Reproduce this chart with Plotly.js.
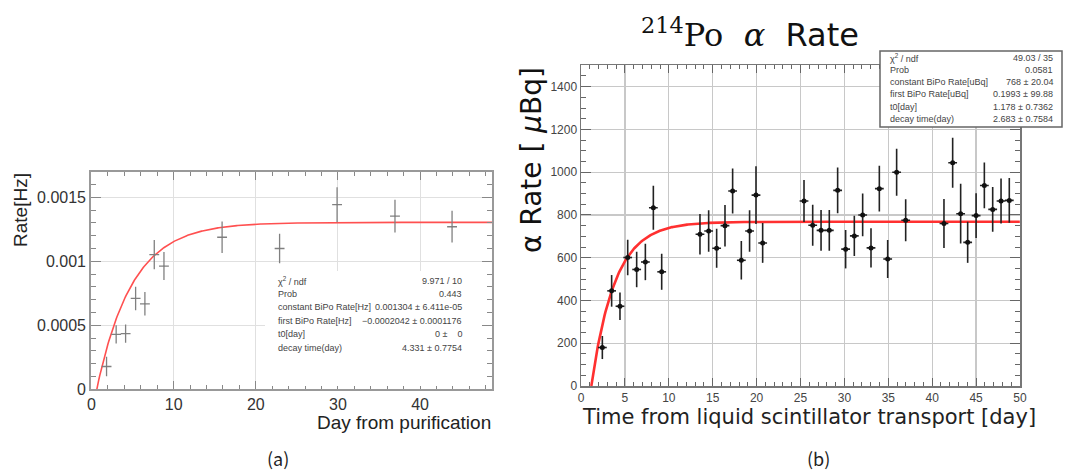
<!DOCTYPE html>
<html>
<head>
<meta charset="utf-8">
<script src="https://cdn.plot.ly/plotly-3.0.1.min.js"></script>
<style>html,body{margin:0;padding:0;background:#fff;}#chart{width:1067px;height:470px;}</style>
</head>
<body>
<div id="chart"></div>
<script>
// ---------- Panel (a) data ----------
const aDay      = [1.83, 3.0, 4.15, 5.37, 6.5, 7.64, 8.82, 15.9, 22.9, 29.9, 36.95, 43.9];
const aDayErr   = [0.6, 0.6, 0.6, 0.6, 0.6, 0.6, 0.6, 0.6, 0.6, 0.6, 0.6, 0.6];
const aRate     = [0.000178, 0.000429, 0.000435, 0.00071, 0.000668, 0.001052, 0.000963, 0.001188, 0.0011, 0.001442, 0.001353, 0.00127];
const aRateErr  = [0.000076, 0.000072, 0.000072, 0.000092, 0.000092, 0.000115, 0.00011, 0.000123, 0.000115, 0.000137, 0.000128, 0.000124];
const aFit = {constant: 0.001304, first: -0.0002042, t0: 0, tau: 4.331};
const aStatLabels = ["χ<sup>2</sup> / ndf", "Prob", "constant BiPo Rate[Hz]", "first BiPo Rate[Hz]", "t0[day]", "decay time(day)"];
const aStatValues = ["9.971 / 10", "0.443", "0.001304 ± 6.411e-05", "−0.0002042 ± 0.0001176", "0 ±    0", "4.331 ± 0.7754"];

// ---------- Panel (b) data ----------
const bDay     = [2.43, 3.49, 4.44, 5.32, 6.34, 7.33, 8.24, 9.19, 13.55, 14.54, 15.45, 16.4, 17.27, 18.26, 19.2, 19.93, 20.69,
                  25.4, 26.39, 27.34, 28.28, 29.23, 30.14, 31.13, 32.08, 33.03, 33.98, 34.93, 35.95, 36.98,
                  41.34, 42.33, 43.24, 44.04, 45.0, 45.94, 46.89, 47.84, 48.78];
const bRate    = [180, 445, 373, 601, 545, 580, 834, 534, 710, 725, 644, 750, 912, 588, 725, 893, 669,
                  865, 752, 728, 728, 915, 640, 702, 800, 646, 923, 594, 1000, 775,
                  760, 1044, 806, 672, 797, 938, 826, 865, 868];
const bRateErr = [54, 74, 64, 83, 83, 85, 103, 84, 95, 97, 91, 97, 105, 90, 97, 135, 93,
                  98, 96, 95, 95, 107, 90, 94, 100, 92, 107, 89, 110, 98,
                  115, 117, 140, 96, 105, 107, 105, 105, 105];
const bDayErr  = bDay.map(() => 0.5);
const bFit = {constant: 768, first: 0.1993, t0: 1.178, tau: 2.683};
const bStatLabels = ["χ<sup>2</sup> / ndf", "Prob", "constant BiPo Rate[uBq]", "first BiPo Rate[uBq]", "t0[day]", "decay time(day)"];
const bStatValues = ["49.03 / 35", "0.0581", "768 ± 20.04", "0.1993 ± 99.88", "1.178 ± 0.7362", "2.683 ± 0.7584"];

// fit model drawn by the original analysis: C - (C - A) * exp(-(t - t0)/tau), for t >= t0
function fitCurve(p, tStart, tEnd, step) {
  const xs = [], ys = [];
  for (let t = tStart; t <= tEnd + 1e-9; t += step) {
    xs.push(t);
    ys.push(p.constant - (p.constant - p.first) * Math.exp(-(t - p.t0) / p.tau));
  }
  return {x: xs, y: ys};
}
const aCurve = fitCurve(aFit, 0, 48.8, 0.1);
const bCurve = fitCurve(bFit, bFit.t0, 50, 0.1);

const W = 1067, H = 470;
const px = v => v / W;
const py = v => 1 - v / H;

const traces = [
  {x: aCurve.x, y: aCurve.y, xaxis: 'x', yaxis: 'y', mode: 'lines', line: {color: '#ff5050', width: 1.6}, hoverinfo: 'skip'},
  {x: aDay, y: aRate, xaxis: 'x', yaxis: 'y', mode: 'markers', marker: {size: 1, color: '#777'},
   error_y: {type: 'data', array: aRateErr, color: '#808080', thickness: 1.3, width: 0},
   error_x: {type: 'data', array: aDayErr, color: '#808080', thickness: 1.3, width: 0}},
  {x: bCurve.x, y: bCurve.y, xaxis: 'x2', yaxis: 'y2', mode: 'lines', line: {color: '#ff3030', width: 2.6}, hoverinfo: 'skip'},
  {x: bDay, y: bRate, xaxis: 'x2', yaxis: 'y2', mode: 'markers', marker: {size: 5, color: '#111'},
   error_y: {type: 'data', array: bRateErr, color: '#222', thickness: 1.6, width: 0},
   error_x: {type: 'data', array: bDayErr, color: '#222', thickness: 1.6, width: 0}}
];

const annotations = [];
// Panel (a) axis titles
annotations.push({xref: 'paper', yref: 'paper', x: px(20), y: py(171), xanchor: 'center', yanchor: 'top', textangle: -90,
  text: 'Rate[Hz]', showarrow: false, font: {family: 'Liberation Sans, Arial', size: 19, color: '#222'}});
annotations.push({xref: 'paper', yref: 'paper', x: px(493), y: py(422), xanchor: 'right', yanchor: 'middle',
  text: 'Day from purification', showarrow: false, font: {family: 'Liberation Sans, Arial', size: 19, color: '#222'}});
// Panel (b) axis titles
annotations.push({xref: 'paper', yref: 'paper', x: px(531), y: py(160), xanchor: 'center', yanchor: 'middle', textangle: -90,
  text: 'α Rate [ <i>μ</i>Bq]', showarrow: false, font: {family: 'DejaVu Sans', size: 28, color: '#111'}});
annotations.push({xref: 'paper', yref: 'paper', x: px(809), y: py(417), xanchor: 'center', yanchor: 'middle',
  text: 'Time from liquid scintillator transport [day]', showarrow: false, font: {family: 'DejaVu Sans', size: 21, color: '#222'}});
// sub-figure labels
annotations.push({xref: 'paper', yref: 'paper', x: px(278), y: py(458), xanchor: 'center', yanchor: 'middle',
  text: '(a)', showarrow: false, font: {family: 'Noto Sans CJK JP', size: 18, color: '#222'}});
annotations.push({xref: 'paper', yref: 'paper', x: px(818), y: py(458), xanchor: 'center', yanchor: 'middle',
  text: '(b)', showarrow: false, font: {family: 'Noto Sans CJK JP', size: 18, color: '#222'}});

// stats text (a)
const aStatY = [280.7, 294, 307.3, 321, 334.3, 348.3];
aStatLabels.forEach((t, i) => {
  annotations.push({xref: 'paper', yref: 'paper', x: px(276), y: py(aStatY[i]), xanchor: 'left', yanchor: 'middle',
    text: t, showarrow: false, font: {family: 'Liberation Sans, Arial', size: 9, color: '#444'}});
  annotations.push({xref: 'paper', yref: 'paper', x: px(464), y: py(aStatY[i]), xanchor: 'right', yanchor: 'middle',
    text: aStatValues[i], showarrow: false, font: {family: 'Liberation Sans, Arial', size: 9, color: '#444'}});
});
// stats text (b)
const bStatY = [58.3, 70, 82, 94.3, 106.7, 119];
bStatLabels.forEach((t, i) => {
  annotations.push({xref: 'paper', yref: 'paper', x: px(888), y: py(bStatY[i]), xanchor: 'left', yanchor: 'middle',
    text: t, showarrow: false, font: {family: 'Liberation Sans, Arial', size: 9, color: '#444'}});
  annotations.push({xref: 'paper', yref: 'paper', x: px(1055), y: py(bStatY[i]), xanchor: 'right', yanchor: 'middle',
    text: bStatValues[i], showarrow: false, font: {family: 'Liberation Sans, Arial', size: 9, color: '#444'}});
});

const shapes = [
  {type: 'rect', xref: 'paper', yref: 'paper', x0: px(265), x1: px(482), y0: py(386), y1: py(271),
   fillcolor: '#fff', line: {width: 0}, layer: 'above'},
  {type: 'rect', xref: 'paper', yref: 'paper', x0: px(880), x1: px(1062), y0: py(127), y1: py(51),
   fillcolor: '#fff', line: {width: 1.5, color: '#666'}, layer: 'above'}
];

const tickFontA = {family: 'Liberation Sans, Arial', size: 16, color: '#333'};
const tickFontB = {family: 'Liberation Sans, Arial', size: 12, color: '#444'};

const layout = {
  width: W, height: H,
  margin: {l: 0, r: 0, t: 0, b: 0},
  paper_bgcolor: '#fff', plot_bgcolor: '#fff',
  showlegend: false,
  title: {
    text: '<span style="font-family:DejaVu Serif"><sup>214</sup>Po</span>  <span style="font-family:DejaVu Serif"><i>α</i></span>  Rate',
    x: px(750), xanchor: 'center', y: py(35), yanchor: 'middle', xref: 'paper', yref: 'paper',
    font: {family: 'DejaVu Sans', size: 32, color: '#111'}
  },
  xaxis: {
    domain: [px(90.7), px(492.3)], range: [-0.1, 48.8], anchor: 'y',
    tickvals: [0, 10, 20, 30, 40], ticks: 'inside', ticklen: 8, tickcolor: '#888', tickwidth: 1,
    minor: {dtick: 2, ticklen: 4, ticks: 'inside', tickcolor: '#888', showgrid: false},
    showline: true, linecolor: '#999', linewidth: 1.5, mirror: 'ticks',
    showgrid: true, gridcolor: '#e0e0e0', gridwidth: 1, zeroline: false,
    tickfont: tickFontA
  },
  yaxis: {
    domain: [py(389.3), py(171.7)], range: [0, 0.0017], anchor: 'x',
    tickvals: [0, 0.0005, 0.001, 0.0015], ticktext: ['0', '0.0005', '0.001', '0.0015'],
    ticks: 'inside', ticklen: 10, tickcolor: '#888', tickwidth: 1,
    minor: {dtick: 0.0001, ticklen: 5, ticks: 'inside', tickcolor: '#888', showgrid: false},
    showline: true, linecolor: '#999', linewidth: 1.5, mirror: 'ticks',
    showgrid: true, gridcolor: '#e0e0e0', gridwidth: 1, zeroline: false,
    tickfont: tickFontA
  },
  xaxis2: {
    domain: [px(581), px(1020)], range: [0, 50], anchor: 'y2',
    tickvals: [0, 5, 10, 15, 20, 25, 30, 35, 40, 45, 50], ticks: 'inside', ticklen: 8, tickcolor: '#666', tickwidth: 1,
    minor: {dtick: 1, ticklen: 4, ticks: 'inside', tickcolor: '#666', showgrid: false},
    showline: true, linecolor: '#777', linewidth: 1.5, mirror: 'ticks',
    showgrid: true, gridcolor: '#c8c8c8', gridwidth: 1.3, zeroline: false,
    tickfont: tickFontB
  },
  yaxis2: {
    domain: [py(386), py(65.3)], range: [0, 1500], anchor: 'x2',
    tickvals: [0, 200, 400, 600, 800, 1000, 1200, 1400], ticks: 'inside', ticklen: 10, tickcolor: '#666', tickwidth: 1,
    minor: {dtick: 50, ticklen: 5, ticks: 'inside', tickcolor: '#666', showgrid: false},
    showline: true, linecolor: '#777', linewidth: 1.5, mirror: 'ticks',
    showgrid: true, gridcolor: '#c8c8c8', gridwidth: 1.3, zeroline: false,
    tickfont: tickFontB
  },
  annotations: annotations,
  shapes: shapes
};

Plotly.newPlot('chart', traces, layout, {displayModeBar: false, staticPlot: true});
</script>
</body>
</html>
